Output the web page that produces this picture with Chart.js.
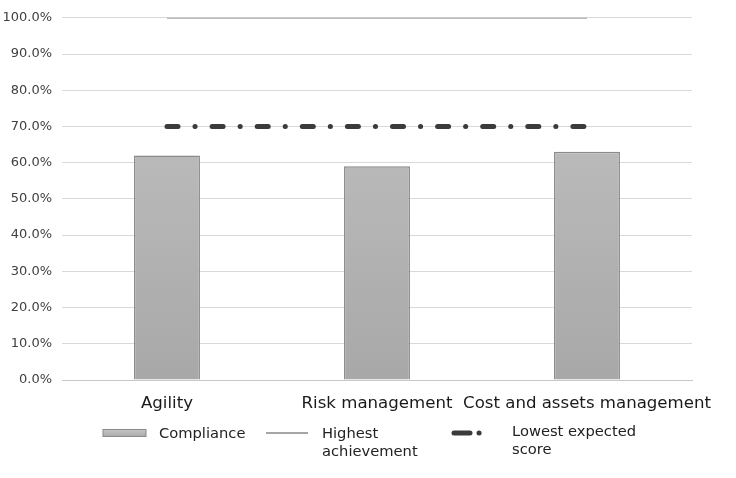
<!DOCTYPE html>
<html>
<head>
<script src="https://cdn.jsdelivr.net/npm/chart.js@4.4.0/dist/chart.umd.min.js"></script>
<style>
  html, body { margin: 0; padding: 0; background: #fff; }
  #wrap { width: 736px; height: 478px; }
</style>
</head>
<body>
<div id="wrap"><canvas id="myChart" width="736" height="478"></canvas></div>
<script>
// data
const categories = ['Agility', 'Risk management', 'Cost and assets management']
const compliance = [62, 59, 63]
const highestAchievement = [100, 100, 100]
const lowestExpected = [70, 70, 70]
const yTicks = [0, 10, 20, 30, 40, 50, 60, 70, 80, 90, 100]

const FONT = "'DejaVu Sans', Verdana, sans-serif"

const barFill = (ctx) => {
    const area = ctx.chart.chartArea
    if (!area) return '#b5b5b5'
    const g = ctx.chart.ctx.createLinearGradient(0, area.top, 0, area.bottom)
    g.addColorStop(0, '#c4c4c4')
    g.addColorStop(1, '#a8a8a8')
    return g
}

// legend drawn by hand, because two labels wrap onto two lines
const legendPlugin = {
    id: 'wrapLegend',
    afterDraw(chart) {
        const c = chart.ctx
        c.save()
        c.font = '14.7px ' + FONT
        c.fillStyle = '#222'
        c.textBaseline = 'middle'
        // Compliance swatch
        const g = c.createLinearGradient(0, 430, 0, 437)
        g.addColorStop(0, '#c4c4c4')
        g.addColorStop(1, '#a8a8a8')
        c.fillStyle = g
        c.fillRect(103, 429.5, 43, 7)
        c.strokeStyle = '#8a8a8a'
        c.lineWidth = 1
        c.strokeRect(103, 429.5, 43, 7)
        c.fillStyle = '#222'
        c.fillText('Compliance', 159, 434)
        // Highest achievement swatch
        c.strokeStyle = '#a6a6a6'
        c.lineWidth = 2
        c.beginPath(); c.moveTo(266, 433); c.lineTo(308, 433); c.stroke()
        c.fillText('Highest', 322, 434)
        c.fillText('achievement', 322, 452)
        // Lowest expected score swatch
        c.strokeStyle = '#3b3b3b'
        c.lineWidth = 5
        c.lineCap = 'round'
        c.setLineDash([16, 9, 0.1, 30])
        c.beginPath(); c.moveTo(454, 433); c.lineTo(484, 433); c.stroke()
        c.setLineDash([])
        c.fillText('Lowest expected', 512, 432)
        c.fillText('score', 512, 450)
        c.restore()
    }
}

const config = {
    data: {
        labels: categories,
        datasets: [
            {
                type: 'line',
                label: 'Highest achievement',
                data: highestAchievement,
                borderColor: '#a6a6a6',
                borderWidth: 2,
                pointRadius: 0,
                order: 1
            },
            {
                type: 'line',
                label: 'Lowest expected score',
                data: lowestExpected,
                borderColor: '#3b3b3b',
                borderWidth: 5,
                borderCapStyle: 'round',
                borderDash: [11, 17, 0.1, 17],
                pointRadius: 0,
                order: 0
            },
            {
                type: 'bar',
                label: 'Compliance',
                data: compliance,
                backgroundColor: barFill,
                borderColor: '#8a8a8a',
                borderWidth: 1.5,
                categoryPercentage: 1,
                barPercentage: 0.314,
                order: 2
            }
        ]
    },
    options: {
        responsive: false,
        animation: false,
        layout: { padding: { top: 16, right: 44, left: 0, bottom: 0 } },
        plugins: {
            legend: { display: false },
            tooltip: { enabled: false }
        },
        scales: {
            x: {
                grid: { display: false, drawTicks: false },
                border: { color: '#c8c8c8', width: 1 },
                ticks: {
                    font: { family: FONT, size: 16.6 },
                    color: '#1a1a1a',
                    padding: 14,
                    maxRotation: 0,
                    autoSkip: false
                },
                afterFit: (s) => { s.height = 98 }
            },
            y: {
                min: 0,
                max: 100,
                afterBuildTicks: (s) => { s.ticks = yTicks.map(v => ({ value: v })) },
                grid: { color: '#d9d9d9', lineWidth: 1, drawTicks: false },
                border: { display: false },
                ticks: {
                    font: { family: FONT, size: 13 },
                    color: '#404040',
                    padding: 10,
                    callback: (v) => v.toFixed(1) + '%'
                },
                afterFit: (s) => { s.width = 62 }
            }
        }
    },
    plugins: [legendPlugin]
}

const myChart = new Chart(document.getElementById('myChart'), config)
</script>
</body>
</html>
